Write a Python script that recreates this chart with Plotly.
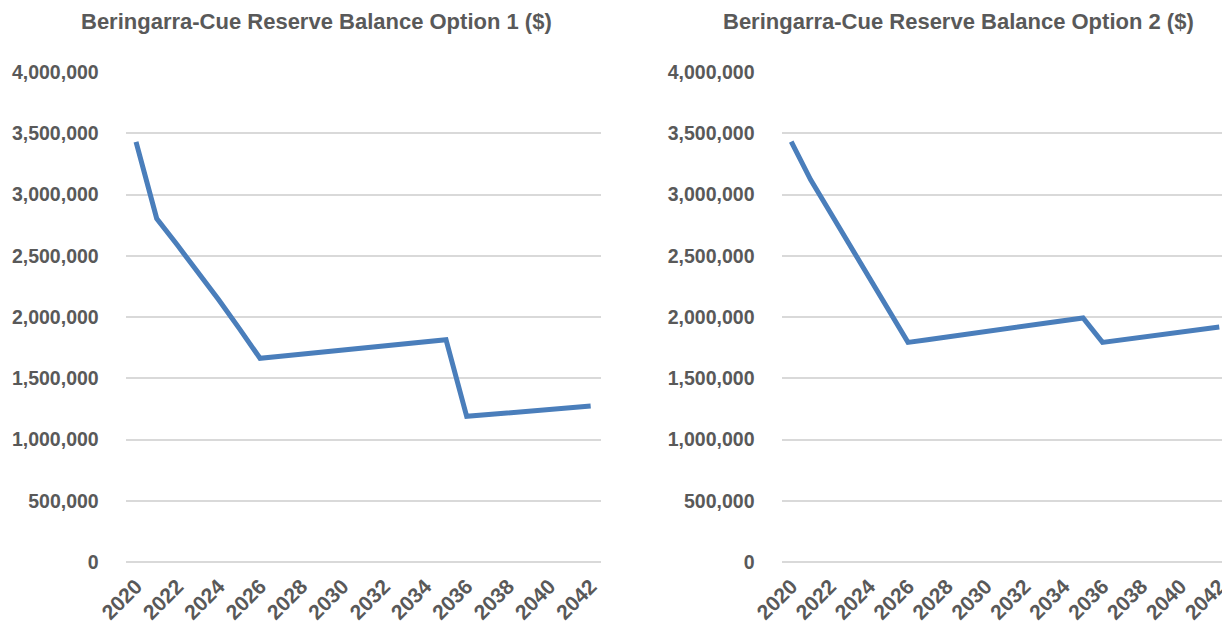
import plotly.graph_objects as go

years = list(range(2020, 2043))
option1 = [3430000, 2804000, 2587000, 2366000, 2140000, 1905000, 1663000, 1680000,
           1697000, 1714000, 1731000, 1748000, 1765000, 1782000, 1799000, 1815000,
           1189000, 1203000, 1217000, 1231000, 1245000, 1259000, 1273000]
option2 = [3432000, 3120000, 2855000, 2590000, 2324000, 2059000, 1793000, 1815000,
           1837000, 1859000, 1881000, 1903000, 1925000, 1948000, 1970000, 1992000,
           1793000, 1814000, 1835000, 1856000, 1876000, 1897000, 1918000]
titles = ["Beringarra-Cue Reserve Balance Option 1 ($)",
          "Beringarra-Cue Reserve Balance Option 2 ($)"]
ytick_vals = [0, 500000, 1000000, 1500000, 2000000, 2500000, 3000000, 3500000, 4000000]

FONT = "Liberation Sans, Arial, sans-serif"
TXT = "#595959"
GRID = "#d9d9d9"
LINE = "#4a7ebb"
W, H = 1230, 626
OFF = 8  # page body margin offset

def px_x(p):
    return (p - OFF) / W

def px_y(p):
    return 1 - (p - OFF) / H

fig = go.Figure()
fig.add_trace(go.Scatter(x=years, y=option1, mode="lines",
                         line=dict(color=LINE, width=5), xaxis="x", yaxis="y",
                         hoverinfo="x+y"))
fig.add_trace(go.Scatter(x=years, y=option2, mode="lines",
                         line=dict(color=LINE, width=5), xaxis="x2", yaxis="y2",
                         hoverinfo="x+y"))

def xax(dom, anchor):
    return dict(domain=dom, anchor=anchor, range=[2019.5, 2042.5], tick0=2020, dtick=2,
                tickangle=-45, showgrid=False, zeroline=False, showline=False,
                automargin=False,
                ticks="", tickfont=dict(family=FONT, size=21, color=TXT, weight="bold"),
                ticklabelstandoff=7)

def yax(dom, anchor):
    return dict(domain=dom, anchor=anchor, range=[0, 4000000], tickvals=ytick_vals,
                tickformat=",", showgrid=True, gridcolor=GRID, gridwidth=1.5,
                zeroline=True, zerolinecolor=GRID, zerolinewidth=1.5, showline=False,
                automargin=False,
                ticks="", tickfont=dict(family=FONT, size=19.5, color=TXT, weight="bold"),
                ticklabelstandoff=26)

ydom = [px_y(562), px_y(72)]
fig.update_layout(
    template="none",
    width=W, height=H,
    margin=dict(l=0, r=0, t=0, b=0),
    paper_bgcolor="white", plot_bgcolor="white",
    showlegend=False,
    xaxis=xax([px_x(125.7), px_x(601)], "y"),
    yaxis=yax(ydom, "x"),
    xaxis2=xax([px_x(781.5), px_x(1229)], "y2"),
    yaxis2=yax(ydom, "x2"),
    annotations=[
        dict(text="<b>%s</b>" % titles[0], x=px_x(316), y=px_y(22), xref="paper",
             yref="paper", xanchor="center", yanchor="middle", showarrow=False,
             font=dict(family=FONT, size=22, color=TXT)),
        dict(text="<b>%s</b>" % titles[1], x=px_x(958), y=px_y(22), xref="paper",
             yref="paper", xanchor="center", yanchor="middle", showarrow=False,
             font=dict(family=FONT, size=22, color=TXT)),
    ],
)

fig.write_html("out.html")
